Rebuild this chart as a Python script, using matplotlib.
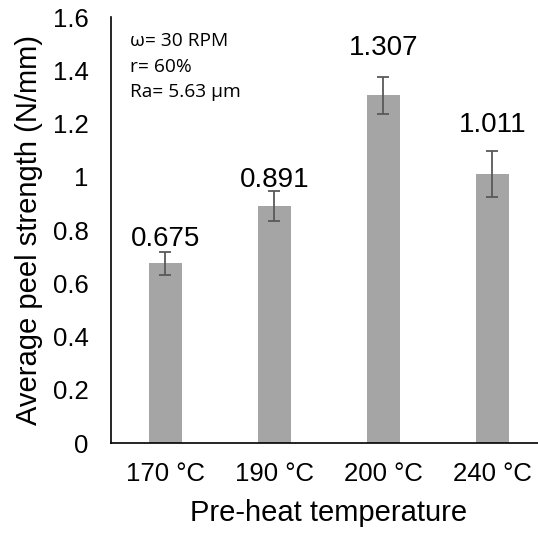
import matplotlib
matplotlib.use("Agg")
import matplotlib.pyplot as plt
from matplotlib.ticker import FuncFormatter

# Data
categories = ["170 °C", "190 °C", "200 °C", "240 °C"]
peel_strength = [0.675, 0.891, 1.307, 1.011]
peel_error = [0.044, 0.057, 0.070, 0.088]
label_gap_px = [6, 4, 22, 19]  # spacing between error cap and value label baseline
y_ticks = [0, 0.2, 0.4, 0.6, 0.8, 1.0, 1.2, 1.4, 1.6]
conditions = ["ω= 30 RPM", "r= 60%", "Ra= 5.63 µm"]

DPI = 100
fig = plt.figure(figsize=(5.38, 5.37), dpi=DPI)
ax = fig.add_axes([0.2063, 0.175, 0.8104, 0.793])

x = list(range(len(categories)))
ax.bar(x, peel_strength, width=0.31, color="#a5a5a5", zorder=2)
ax.errorbar(x, peel_strength, yerr=peel_error, fmt="none", ecolor="#595959",
            elinewidth=1.3, capsize=4.3, capthick=1.3, zorder=3)

font = "Liberation Sans"
for xi, v, e, g in zip(x, peel_strength, peel_error, label_gap_px):
    ax.annotate(f"{v:.3f}", xy=(xi, v + e), xytext=(0, g * 72 / DPI),
                textcoords="offset points", ha="center", va="baseline",
                fontsize=20, family=font, color="black")

ax.set_xlim(-0.5, 3.5)
ax.set_ylim(0, 1.6)
ax.set_yticks(y_ticks)
ax.yaxis.set_major_formatter(FuncFormatter(lambda v, p: f"{v:g}"))
ax.set_xticks(x)
ax.set_xticklabels(categories)
ax.tick_params(axis="both", length=0, labelsize=18.5, colors="black")
ax.tick_params(axis="y", pad=16)
ax.tick_params(axis="x", pad=14)
for lab in ax.get_xticklabels() + ax.get_yticklabels():
    lab.set_family(font)

ax.set_xlabel("Pre-heat temperature", fontsize=21, family=font, labelpad=9)
ax.set_ylabel("Average peel strength (N/mm)", fontsize=21, family=font, labelpad=7)

for side in ("top", "right"):
    ax.spines[side].set_visible(False)
for side in ("left", "bottom"):
    ax.spines[side].set_color("black")
    ax.spines[side].set_linewidth(1.2)

ax.text(0.043, 0.965, "\n".join(conditions), transform=ax.transAxes,
        ha="left", va="top", fontsize=13.8, family="Open Sans",
        linespacing=1.55, color="black")

fig.savefig("out.png", dpi=DPI)
